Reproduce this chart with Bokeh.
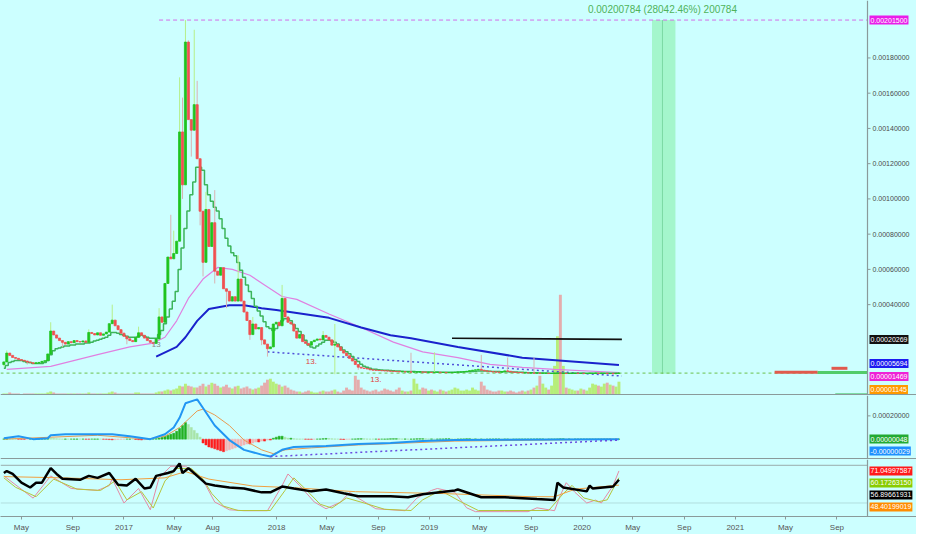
import numpy as np
import pandas as pd
from bokeh.plotting import figure
from bokeh.layouts import column
from bokeh.models import Range1d, FixedTicker, Span, Label
from bokeh.core.properties import value
from bokeh.embed import file_html
from bokeh.resources import INLINE

# ---------------- data (prices written in micro-BTC, 1e-6) ----------------
U = 1e-6
first_week = "2016-03-20"
first_open_u = 60

close_u = [
    75, 125, 112, 100, 95, 88, 84, 80, 74, 70,
    66, 70, 72, 78, 82, 120, 250, 228, 210, 196,
    186, 176, 190, 184, 196, 190, 188, 194, 186, 242,
    236, 228, 240, 226, 234, 244, 292, 312, 280, 258,
    238, 220, 206, 196, 190, 214, 240, 226, 210, 196,
    186, 180, 205, 330, 300, 520, 670, 660, 690, 760,
    1380, 1080, 1890, 1450, 1390, 1535, 1228, 930, 640, 940,
    730, 865, 590, 567, 610, 490, 476, 420, 445, 420,
    545, 420, 358, 310, 230, 290, 262, 270, 200, 176,
    150, 160, 290, 300, 280, 435, 330, 300, 290, 250,
    210, 230, 190, 180, 170, 190, 198, 205, 200, 225,
    215, 200, 170, 175, 160, 140, 125, 110, 95, 80,
    60, 45, 40, 38, 35, 30, 28, 27, 26, 25,
    24, 23, 22, 21, 20, 19, 19, 18, 18, 17,
    17, 17, 18, 17, 16, 16, 15, 15, 16, 15,
    15, 14, 14, 15, 16, 17, 18, 20, 22, 25,
    28, 30, 33, 28, 24, 22, 20, 18, 17, 16,
    20, 24, 22, 18, 16, 15, 14, 13, 13, 12,
    12, 11, 11, 10, 10, 10, 9, 9, 10, 12,
    10, 10, 9, 9, 10, 11, 10, 10, 9, 9,
    10, 10, 11, 10, 10, 10, 9, 9, 8, 10,
    11.45,
]

wick_hi_week = [1, 16, 29, 37, 46, 53, 57, 58, 60, 61, 62, 63, 65, 66, 69, 72,
                80, 85, 95, 109, 113, 139, 147, 163, 172, 181]
wick_hi_u = [140, 300, 260, 400, 275, 380, 910, 820, 1690, 1575, 2015, 1900, 1960, 1670, 1040, 1050,
             680, 330, 512, 250, 290, 127, 130, 115, 100, 100]
wick_lo_week = [0, 8, 20, 42, 51, 61, 64, 67, 68, 72, 76, 84, 88, 90, 113, 121]
wick_lo_u = [50, 60, 160, 175, 165, 1000, 1240, 850, 560, 520, 380, 200, 170, 105, 5, 30]

trail_u = [
    39, 55, 72, 77, 83, 83, 83, 77, 72, 72,
    66, 66, 66, 66, 72, 83, 116, 138, 149, 154,
    160, 165, 165, 171, 171, 176, 176, 176, 182, 182,
    187, 193, 198, 204, 209, 215, 226, 242, 242, 237,
    231, 226, 220, 215, 215, 215, 220, 226, 220, 215,
    209, 209, 209, 231, 253, 292, 330, 375, 419, 474,
    600, 722, 832, 931, 1024, 1096, 1179, 1179, 1162, 1080,
    1024, 986, 953, 931, 887, 832, 777, 733, 694, 677,
    639, 595, 556, 512, 474, 435, 391, 364, 336, 303,
    275, 264, 253, 264, 286, 308, 320, 320, 308, 286,
    264, 248, 226, 198, 171, 160, 154, 165, 176, 187,
    198, 198, 193, 187, 176, 160, 143, 132, 121, 105,
    88, 77, 61, 50, 44, 39, 33, 33, 30, 29,
    28, 27, 26, 25, 24, 23, 22, 21, 21, 20,
    20, 19, 19, 18, 18, 18, 17, 17, 17, 16,
    16, 16, 16, 16, 16, 17, 17, 18, 19, 20,
    21, 22, 23, 24, 24, 23, 22, 21, 20, 20,
    19, 19, 19, 18, 18, 17, 16, 16, 15, 14,
    14, 13, 13, 12, 12, 12, 11, 11, 11, 11,
    11, 11, 11, 10, 10, 10, 10, 10, 10, 10,
    10, 10, 10, 10, 10, 10, 10, 10, 10, 10,
    10,
]

volume_m = [
    2, 2, 3, 2, 2, 2, 1, 2, 2, 2,
    2, 2, 2, 2, 2, 3, 4, 3, 2, 2,
    2, 2, 2, 2, 2, 2, 2, 2, 2, 3,
    2, 2, 2, 2, 2, 2, 3, 4, 3, 2,
    2, 2, 2, 2, 2, 3, 3, 2, 2, 2,
    2, 2, 3, 4, 4, 5, 6, 5, 6, 7,
    10, 9, 12, 10, 9, 8, 8, 10, 12, 9,
    11, 13, 12, 10, 8, 9, 11, 8, 7, 9,
    10, 7, 8, 9, 7, 6, 7, 8, 10, 13,
    16, 17, 14, 12, 11, 9, 10, 8, 6, 5,
    4, 4, 3, 4, 5, 4, 3, 3, 4, 5,
    4, 4, 5, 6, 4, 3, 5, 8, 6, 5,
    20, 16, 8, 6, 5, 4, 5, 6, 4, 5,
    7, 6, 5, 4, 6, 8, 5, 4, 4, 5,
    17, 12, 6, 8, 7, 5, 6, 5, 4, 6,
    5, 4, 5, 6, 8, 7, 5, 5, 6, 5,
    8, 6, 5, 14, 10, 6, 5, 4, 4, 5,
    5, 4, 4, 5, 4, 3, 4, 5, 4, 5,
    6, 8, 10, 20, 12, 8, 6, 10, 30, 60,
    102, 30, 8, 7, 6, 5, 5, 7, 6, 5,
    8, 12, 11, 10, 9, 12, 13, 11, 10, 9,
    14,
]

ma_fast_week = [1, 16, 32, 43, 51, 55, 59, 63, 68, 73, 78, 84, 89, 95, 100, 111, 122, 133, 143,
                155, 166, 177, 188, 210]
ma_fast_u = [33, 50, 116, 160, 182, 215, 308, 435, 545, 611, 600, 567, 512, 446, 430, 347, 270, 187, 132,
             99, 61, 44, 33, 14.69]
ma_slow_week = [52, 59, 62, 66, 70, 77, 82, 88, 93, 100, 111, 122, 132, 139, 155, 177, 210]
ma_slow_u = [105, 160, 215, 308, 375, 397, 397, 380, 369, 352, 325, 270, 226, 209, 160, 99, 56.94]

level_week = [153, 211]
level_u = [209, 202.69]
trend_week = [90, 211]
trend_u = [132, -5.5]
ath_from_week = 53
ath_u = 2015
measure_lo_u = 7.16
measure_dates = ["2020-06-16", "2020-07-11", "2020-08-11"]

profile_start = ["2021-04-05", "2021-07-17", "2021-08-19", "2021-08-28"]
profile_end = ["2021-07-17", "2021-11-13", "2021-09-26", "2021-11-13"]
profile_u = [16.5, 15, 38.6, -110]

mark_week = [52, 105, 127]
mark_u = [171, 77, -27]
mark_text = ["13", "13.", "13."]

# MACD pane
macd_week = [0, 5, 10, 15, 16, 21, 32, 37, 43, 50, 55, 58, 60, 62, 66, 68, 72, 77, 82, 88, 91, 95,
             99, 110, 121, 132, 143, 154, 210]
macd_u = [8, 25, 0, 8, 33, 42, 42, 42, 25, 0, 42, 100, 183, 308, 342, 267, 117, -8, -92, -133, -150, -92,
          -67, -58, -42, -33, -17, -8, -0.29]
signal_week = [0, 32, 49, 55, 60, 66, 68, 72, 77, 82, 88, 92, 96, 105, 121, 154, 210]
signal_u = [0, 33, 0, 25, 100, 242, 258, 208, 117, -8, -92, -125, -92, -75, -50, -17, -0.77]
hist_u = [
    2, 3, 2, 1, 0, -1, -2, -2, -1, 0,
    1, 2, 3, 5, 8, 10, 8, 5, 3, 2,
    1, 1, 0, 0, 1, 1, 0, 0, -1, -1,
    0, 1, 1, 0, -1, -2, -4, -6, -5, -3,
    -2, -1, 0, 1, 0, -3, -5, -7, -5, -3,
    -1, 0, 4, 8, 17, 25, 33, 42, 50, 67,
    92, 117, 142, 125, 100, 75, 50, 17, -33, -50,
    -67, -75, -83, -92, -100, -108, -100, -92, -83, -75,
    -67, -58, -50, -42, -42, -33, -25, -25, -17, -17,
    -8, -8, 8, 17, 25, 25, 17, 8, 8, 4,
    2, 1, 0, -1, -2, -2, -1, 0, 2, 4,
    6, 5, 3, 2, 0, -2, -3, -2, -1, 0,
    2, 3, 4, 3, 2, 1, 0, 0, -1, 0,
    1, 2, 3, 4, 4, 3, 2, 2, 1, 1,
    2, 3, 4, 4, 3, 2, 2, 1, 1, 2,
    2, 3, 3, 2, 1, 1, 2, 2, 3, 3,
    2, 2, 1, 1, 0, 0, 1, 1, 2, 2,
    1, 1, 1, 0, 0, 0, 1, 1, 1, 1,
    1, 1, 2, 2, 2, 1, 1, 1, 1, 2,
    3, 3, 2, 2, 1, 1, 1, 1, 1, 1,
    1, 1, 1, 1, 1, 1, 1, 1, 0, 0,
    0.48,
]
macd_trend_week = [91, 210]
macd_trend_u = [-150, -8]

# oscillator pane
rsi_week = [0, 1, 3, 6, 9, 11, 13, 16, 18, 20, 26, 29, 32, 36, 39, 42, 45, 48, 50, 52, 56, 58, 60, 61,
            63, 66, 69, 72, 77, 82, 88, 91, 95, 99, 105, 110, 116, 121, 132, 138, 143, 154, 155, 163,
            171, 182, 188, 189, 191, 199, 200, 201, 208, 210]
rsi = [67.7, 70.8, 66.2, 52.3, 44.6, 52.3, 52.3, 75.4, 66.2, 58.5, 56.9, 63.1, 60, 67.7, 49.2, 47.7,
       58.5, 43.1, 44.6, 63.1, 67.7, 70.8, 83, 67.7, 75.4, 63.1, 50.8, 47.7, 44.6, 43.1, 36.9, 36.9,
       46.2, 43.1, 38.5, 41.5, 35.4, 30.8, 30.8, 29.2, 33.8, 40, 41.5, 29.2, 29.2, 26.2, 24.6, 52.3,
       44.6, 38.5, 47.7, 43.1, 46.2, 56.9]
stoch_k_week = [0, 10, 16, 23, 32, 36, 37, 41, 46, 50, 53, 57, 62, 66, 69, 72, 77, 82, 90, 95, 97, 101,
                106, 110, 115, 118, 121, 127, 137, 141, 146, 148, 154, 158, 161, 171, 179, 182, 188,
                190, 192, 195, 199, 202, 204, 208, 210]
stoch_k = [63.1, 27.7, 63.1, 43.1, 40, 47.7, 58.5, 20, 43.1, 9.2, 60, 78.5, 78.5, 66.2, 47.7, 21.5, 9.2,
           7.7, 7.7, 47.7, 66.2, 47.7, 21.5, 10.8, 21.5, 36.9, 27.7, 10.8, 7.7, 27.7, 40, 43.1, 36.9,
           12.3, 6.2, 6.2, 6.2, 12.3, 7.7, 32.3, 52.3, 36.9, 20, 24.6, 20, 47.7, 71.05]
stoch_d_week = [0, 4, 11, 17, 25, 33, 38, 42, 47, 51, 55, 59, 64, 68, 71, 75, 80, 91, 96, 99, 103, 108,
                112, 117, 123, 130, 139, 143, 149, 156, 162, 180, 186, 191, 194, 198, 203, 206, 210]
stoch_d = [60, 45, 30, 58, 42, 40, 55, 25, 38, 12, 55, 75, 75, 58, 35, 15, 8, 8, 40, 60, 42, 18, 12, 28,
           20, 10, 8, 25, 40, 22, 8, 8, 8, 35, 48, 28, 22, 25, 60.17]
rsi_ma_week = [0, 20, 40, 55, 62, 70, 85, 100, 120, 150, 180, 188, 195, 210]
rsi_ma = [62, 60, 57, 60, 70, 58, 47, 44, 38, 35, 30, 30, 42, 48.40]
osc_levels = [80, 20]

price_ticks = [0.0004, 0.0006, 0.0008, 0.0010, 0.0012, 0.0014, 0.0016, 0.0018]
macd_ticks = [0.0002]
time_ticks = ["2016-05-01", "2016-09-01", "2017-01-01", "2017-05-01", "2017-08-01", "2018-01-01",
              "2018-05-01", "2018-09-01", "2019-01-01", "2019-05-01", "2019-09-01", "2020-01-01",
              "2020-05-01", "2020-09-01", "2021-01-01", "2021-05-01", "2021-09-01"]
time_labels = ["May", "Sep", "2017", "May", "Aug", "2018", "May", "Sep", "2019", "May", "Sep", "2020",
               "May", "Sep", "2021", "May", "Sep"]

# ---------------- styling ----------------
BG = "#ccffff"
FRAME = "#8a9a9a"
AXIS_TXT = "#4a4a4a"
FONT = "Liberation Sans"
CHART_W, AXIS_W = 867, 49
DAY = 24 * 3600 * 1000

W0 = pd.Timestamp(first_week)
n = len(close_u)
weeks = pd.date_range(first_week, periods=n, freq="7D")


def wk(idx):
    return (W0 + pd.to_timedelta(np.asarray(idx) * 7, unit="D")).values


def ms(d):
    return pd.Timestamp(d).value / 1e6


# the price scale sits inside the frame, to the right of the chart area
x_start, x_axis = pd.Timestamp("2016-03-12"), pd.Timestamp("2021-11-13")
ms_per_px = (ms(x_axis) - ms(x_start)) / CHART_W
AX = ms(x_axis)
xr = Range1d(start=ms(x_start), end=AX + AXIS_W * ms_per_px)


def make_fig(h, lo, hi, bottom=0):
    f = figure(x_axis_type="datetime", x_range=xr, y_range=Range1d(lo, hi),
               frame_width=CHART_W + AXIS_W, frame_height=h, toolbar_location=None,
               output_backend="svg", y_axis_location=None,
               x_axis_location="below" if bottom else None,
               background_fill_color=BG, border_fill_color=BG,
               min_border_left=0, min_border_top=0, min_border_bottom=bottom, min_border_right=0,
               outline_line_color=None)
    f.grid.visible = False
    f.add_layout(Span(location=AX, dimension="height", line_color=FRAME, line_width=1.2))
    if not bottom:
        f.add_layout(Span(location=lo, dimension="width", line_color=FRAME, line_width=3))
    return f


def price_scale(f, ticks):
    f.segment(x0=[AX] * len(ticks), y0=ticks, x1=[AX + 3 * ms_per_px] * len(ticks), y1=ticks,
              line_color=FRAME, line_width=1)
    f.text(x=[AX] * len(ticks), y=ticks, text=[f"{t:.8f}" for t in ticks], x_offset=5,
           text_font=value(FONT), text_font_size="7px", text_color=AXIS_TXT,
           text_align="left", text_baseline="middle")


def stack(vals, lo, hi, h, gap=13, pad=6):
    per = (hi - lo) / h
    order = sorted(range(len(vals)), key=lambda k: -vals[k])
    pos, prev = {}, None
    for k in order:
        y = min(vals[k], hi - pad * per)
        if prev is not None:
            y = min(y, prev - gap * per)
        pos[k] = prev = y
    nxt = None
    for k in reversed(order):
        y = max(pos[k], lo + pad * per) if nxt is None else max(pos[k], nxt + gap * per)
        pos[k] = nxt = y
    return [pos[k] for k in range(len(vals))]


def badges(f, vals, texts, colors, lo, hi, h, gap=13):
    for y, t, c in zip(stack(vals, lo, hi, h, gap=gap), texts, colors):
        f.add_layout(Label(x=AX, y=y, x_offset=2, text=t, text_color="white",
                           text_font=FONT, text_font_size="7px", text_baseline="middle",
                           text_align="left", background_fill_color=c, padding=dict(x=1, y=2)))


# ---------------- main price pane ----------------
P_LO, P_HI, P_H = -115.7 * U, 2126 * U, 395
p = make_fig(P_H, P_LO, P_HI)

close = np.array(close_u) * U
opn = np.concatenate([[first_open_u * U], close[:-1]])
hi_ = np.maximum(opn, close)
lo_ = np.minimum(opn, close)
for w, v in zip(wick_hi_week, wick_hi_u):
    hi_[w] = v * U
for w, v in zip(wick_lo_week, wick_lo_u):
    lo_[w] = v * U
up = close >= opn

# volume overlay at the bottom of the pane
p.extra_y_ranges = {"vol": Range1d(0, 400)}
p.vbar(x=weeks, width=7 * DAY, top=volume_m, bottom=0, y_range_name="vol",
       fill_color=np.where(up, "#b4ec6c", "#e8a4a4"), line_color=None, fill_alpha=0.9)

# measure band
mlo, mhi = measure_lo_u * U, ath_u * U
p.quad(left=[pd.Timestamp(measure_dates[0])], right=[pd.Timestamp(measure_dates[2])],
       bottom=[mlo], top=[mhi], fill_color="#a0f5c6", fill_alpha=0.9, line_color=None)
p.segment(x0=[pd.Timestamp(measure_dates[1])], y0=[mlo], x1=[pd.Timestamp(measure_dates[1])], y1=[mhi],
          line_color="#7cd9a4", line_width=1)
diff = mhi - mlo
per_px = (P_HI - P_LO) / P_H
p.add_layout(Label(x=ms(measure_dates[1]), y=mhi + 11 * per_px,
                   text=f"{diff:.8f} ({diff / mlo * 100:.2f}%) {round(diff * 1e8)}",
                   text_align="center", text_baseline="middle", text_color="#4fb35a",
                   text_font=FONT, text_font_size="10px"))

# ATH dashed line and last price line
p.segment(x0=[wk([ath_from_week])[0]], y0=[mhi], x1=[AX], y1=[mhi],
          line_color="#d46ee8", line_dash="4 3", line_width=1)
p.segment(x0=[ms(x_start)], y0=[close[-1]], x1=[AX], y1=[close[-1]],
          line_color="#6cc04a", line_dash="3 3", line_width=1)

# moving averages and lines
p.line(wk(ma_fast_week), np.array(ma_fast_u) * U, line_color="#e080e0", line_width=1.2)
p.line(wk(ma_slow_week), np.array(ma_slow_u) * U, line_color="#1a22cc", line_width=2)
p.line(wk(level_week), np.array(level_u) * U, line_color="#111111", line_width=1.6)
p.line(wk(trend_week), np.array(trend_u) * U, line_color="#5050d8", line_dash="2 3", line_width=1.5)
p.step(weeks, np.array(trail_u) * U, mode="center", line_color="#3cb45a", line_width=1.5)

# candles
p.segment(x0=weeks, y0=lo_, x1=weeks, y1=hi_, line_color=np.where(up, "#b6ef8a", "#d9b2b2"), line_width=1)
body_col = np.where(up, "#1fc41f", "#f05050")
p.vbar(x=weeks, width=5 * DAY, top=np.maximum(opn, close), bottom=np.minimum(opn, close),
       fill_color=body_col, line_color=body_col, line_width=0.8)

# far-right range bars
prof_col = ["#e05a4e", "#52cc6a", "#e05a4e", "#2db84a"]
prof_w = [3, 3, 3, 2]
p.segment(x0=pd.to_datetime(profile_start).values, y0=np.array(profile_u) * U,
          x1=pd.to_datetime(profile_end).values, y1=np.array(profile_u) * U,
          line_color=prof_col, line_width=prof_w)

p.text(x=wk(mark_week), y=np.array(mark_u) * U, text=mark_text, text_font=value(FONT),
       text_font_size="8px", text_color=["#888888", "#e04040", "#e04040"],
       text_align="center", text_baseline="middle")

price_scale(p, price_ticks)
badges(p, [ath_u * U, level_u[-1] * U, ma_slow_u[-1] * U, ma_fast_u[-1] * U, close[-1]],
       ["0.00201500", "0.00020269", "0.00005694", "0.00001469", "0.00001145"],
       ["#e91ee9", "#111111", "#1c1cf0", "#ee22d6", "#ff9900"], P_LO, P_HI, P_H)

# ---------------- MACD pane ----------------
M_LO, M_HI, M_H = -175 * U, 375 * U, 64
m = make_fig(M_H, M_LO, M_HI)
hist = np.array(hist_u) * U
prev = np.concatenate([[0], hist[:-1]])
hcol = np.where(hist >= 0, np.where(hist >= prev, "#22b022", "#a8e4a8"),
                np.where(hist <= prev, "#ff1c1c", "#f2b4b4"))
m.vbar(x=weeks, width=5 * DAY, top=hist, bottom=0, fill_color=hcol, line_color=hcol, line_width=0.5)
m.line(wk(signal_week), np.array(signal_u) * U, line_color="#e89a50", line_width=1)
m.line(wk(macd_week), np.array(macd_u) * U, line_color="#2196f3", line_width=2)
m.line(wk(macd_trend_week), np.array(macd_trend_u) * U, line_color="#6a4ce0", line_dash="2 3",
       line_width=1.5)
price_scale(m, macd_ticks)
badges(m, [hist[-1], macd_u[-1] * U], ["0.00000048", "-0.00000029"], ["#22aa33", "#1e90ff"],
       M_LO, M_HI, M_H, gap=12)

# ---------------- oscillator pane ----------------
O_LO, O_HI, O_H = -1.5, 89.2, 57
o = make_fig(O_H, O_LO, O_HI, bottom=18)
o.segment(x0=[ms(x_start)] * 2, y0=osc_levels, x1=[AX] * 2, y1=osc_levels,
          line_color=["#9aabab", "#b2dede"], line_width=1)
o.line(wk(stoch_k_week), stoch_k, line_color="#e48aa4", line_width=1)
o.line(wk(stoch_d_week), stoch_d, line_color="#b4c43c", line_width=1)
o.line(wk(rsi_ma_week), rsi_ma, line_color="#f0a040", line_width=1)
o.line(wk(rsi_week), rsi, line_color="#000000", line_width=2.5)
badges(o, [stoch_k[-1], stoch_d[-1], rsi[-1], rsi_ma[-1]],
       ["71.04997587", "60.17263150", "56.89661931", "48.40199019"],
       ["#ff1a1a", "#88cc00", "#000000", "#ff8c00"], O_LO, O_HI, O_H, gap=12)

tick_ms = [int(ms(d)) for d in time_ticks]
xa = o.xaxis[0]
xa.ticker = FixedTicker(ticks=tick_ms)
xa.major_label_overrides = dict(zip(tick_ms, time_labels))
xa.axis_line_color = FRAME
xa.major_tick_line_color = FRAME
xa.minor_tick_line_color = None
xa.major_tick_out = 3
xa.major_tick_in = 0
xa.major_label_standoff = 3
xa.major_label_text_font = FONT
xa.major_label_text_font_size = "8px"
xa.major_label_text_color = "#555555"

layout = column(p, m, o, spacing=0, background=BG)
open("out.html", "w").write(file_html(layout, INLINE))
